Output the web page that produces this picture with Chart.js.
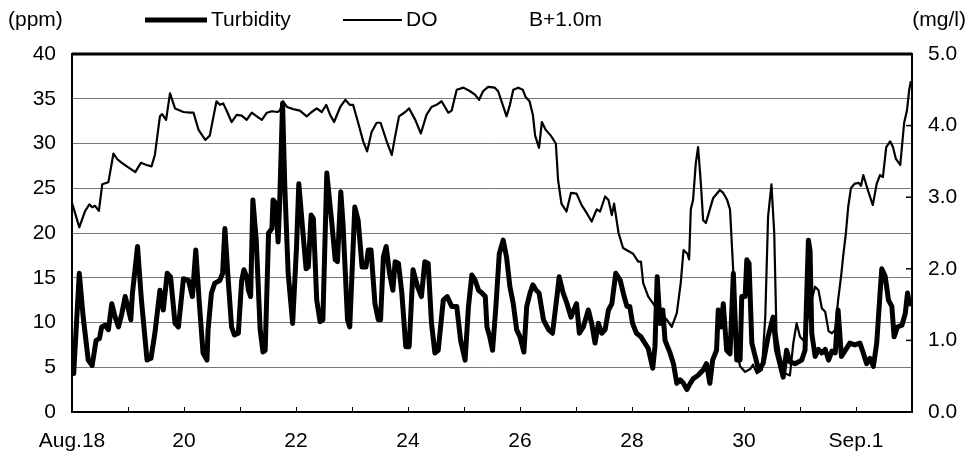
<!DOCTYPE html>
<html>
<head>
<meta charset="utf-8">
<script src="https://cdn.jsdelivr.net/npm/chart.js@4.4.1/dist/chart.umd.min.js"></script>
<style>
  html, body { margin: 0; padding: 0; background: #fff; }
  #wrap { width: 972px; height: 460px; }
</style>
</head>
<body>
<div id="wrap"><canvas id="chart" width="972" height="460"></canvas></div>
<script>
/* -------------------------------------------------------
   Data – days since Aug.18 00:00
------------------------------------------------------- */
const dayLabels = ['Aug.18', '20', '22', '24', '26', '28', '30', 'Sep.1'];

// Turbidity (ppm), left axis
const turbDays = [
  0, 0.03, 0.13, 0.20, 0.29, 0.36, 0.43, 0.49, 0.53, 0.59, 0.65, 0.71, 0.77, 0.83, 0.89, 0.95,
  1.01, 1.05, 1.08, 1.17, 1.24, 1.34, 1.41, 1.48, 1.57, 1.63, 1.70, 1.76, 1.84, 1.90, 1.99,
  2.08, 2.15, 2.21, 2.27, 2.34, 2.41, 2.43, 2.49, 2.55, 2.64, 2.69, 2.73, 2.79, 2.85, 2.90, 2.97,
  3.03, 3.07, 3.12, 3.15, 3.19, 3.23, 3.29, 3.36, 3.41, 3.45, 3.51, 3.57, 3.59, 3.64, 3.68, 3.71,
  3.76, 3.80, 3.86, 3.94, 4.01, 4.05, 4.13, 4.18, 4.22, 4.27, 4.31, 4.37, 4.43, 4.48, 4.55, 4.64,
  4.70, 4.74, 4.80, 4.84, 4.92, 4.96, 5.05, 5.11, 5.18, 5.25, 5.29, 5.34, 5.41, 5.47, 5.51, 5.56,
  5.61, 5.67, 5.73, 5.77, 5.83, 5.89, 5.96, 6.02, 6.09, 6.17, 6.24, 6.30, 6.36, 6.42, 6.48, 6.54,
  6.63, 6.70, 6.78, 6.87, 6.94, 7.02, 7.08, 7.14, 7.20, 7.26, 7.32, 7.38, 7.41, 7.46, 7.51, 7.57,
  7.63, 7.70, 7.76, 7.82, 7.88, 7.94, 8.00, 8.07, 8.12, 8.18, 8.23, 8.29, 8.34, 8.42, 8.51, 8.58,
  8.66, 8.70, 8.77, 8.84, 8.91, 8.96, 9.01, 9.06, 9.13, 9.22, 9.28, 9.34, 9.40, 9.46, 9.52, 9.58,
  9.64, 9.71, 9.79, 9.86, 9.91, 9.96, 10.01, 10.08, 10.16, 10.23, 10.29, 10.37, 10.41, 10.45,
  10.50, 10.55, 10.59, 10.68, 10.74, 10.80, 10.86, 10.92, 10.98, 11.04, 11.09, 11.18, 11.27,
  11.33, 11.39, 11.44, 11.51, 11.54, 11.59, 11.63, 11.69, 11.75, 11.81, 11.87, 11.93, 11.96,
  12.02, 12.05, 12.09, 12.14, 12.20, 12.26, 12.34, 12.43, 12.52, 12.58, 12.64, 12.70, 12.76,
  12.82, 12.91, 13.03, 13.09, 13.15, 13.18, 13.21, 13.27, 13.33, 13.39, 13.45, 13.51, 13.57,
  13.63, 13.68, 13.74, 13.80, 13.89, 13.98, 14.07, 14.13, 14.19, 14.25, 14.31, 14.37, 14.43,
  14.46, 14.52, 14.58, 14.64, 14.68, 14.74, 14.82, 14.88, 14.92, 14.96
];
const turbVals = [
  7.5, 4.3, 15.5, 10.6, 5.8, 5.2, 8.0, 8.2, 9.5, 9.7, 9.2, 12.1, 10.6, 9.5, 11.0, 12.9,
  11.4, 10.3, 13.3, 18.5, 12.5, 5.8, 6.0, 8.8, 13.6, 11.4, 15.5, 15.1, 9.9, 9.5, 14.9,
  14.7, 12.9, 18.1, 12.5, 6.6, 5.8, 9.2, 13.3, 14.4, 14.7, 15.5, 20.5, 14.7, 9.5, 8.6, 8.8,
  14.7, 15.9, 15.1, 13.6, 12.9, 23.7, 19.2, 9.2, 6.7, 6.9, 20.0, 20.5, 23.7, 23.3, 19.0, 23.7,
  34.5, 25.2, 15.5, 9.9, 18.5, 25.5, 19.6, 16.0, 16.2, 22.0, 21.6, 12.5, 10.1, 10.3, 26.7, 21.1,
  17.0, 16.8, 24.6, 21.0, 10.3, 9.5, 22.9, 21.4, 16.2, 16.2, 18.1, 18.1, 12.1, 10.3, 10.3, 17.3,
  18.5, 15.5, 13.6, 16.8, 16.6, 13.3, 7.3, 7.3, 15.9, 14.0, 12.9, 16.8, 16.6, 9.9, 6.6, 6.9,
  12.5, 12.9, 11.8, 11.8, 8.0, 5.8, 11.8, 15.3, 14.7, 13.6, 13.3, 12.9, 9.5, 8.4, 6.9, 11.8,
  17.7, 19.2, 17.3, 14.0, 12.1, 9.2, 8.4, 6.7, 11.8, 13.3, 14.2, 13.6, 13.3, 10.3, 9.2, 8.8,
  12.9, 15.1, 13.3, 12.1, 10.6, 11.4, 12.1, 8.8, 9.5, 11.4, 9.9, 7.7, 9.9, 8.8, 9.2, 11.4,
  12.1, 15.5, 14.7, 12.9, 11.8, 11.8, 9.9, 8.8, 8.4, 7.7, 7.1, 4.9, 7.3, 15.1,
  9.9, 11.4, 8.0, 6.6, 5.4, 3.2, 3.6, 3.2, 2.5, 3.2, 3.7, 4.1, 4.7,
  5.4, 3.2, 5.8, 6.9, 11.4, 9.5, 12.1, 6.9, 6.5, 15.5, 5.8, 5.8, 12.9,
  12.9, 17.0, 16.6, 7.7, 6.2, 4.7, 5.4, 8.4, 10.6, 6.9, 5.4, 3.9, 6.9,
  5.6, 5.4, 5.8, 6.9, 19.2, 18.0, 8.8, 6.2, 7.0, 6.6, 7.0, 5.8, 6.8,
  6.6, 11.4, 6.2, 6.8, 7.7, 7.5, 7.7, 6.6, 5.4, 6.0, 5.1, 7.7, 13.3,
  16.0, 15.2, 12.5, 11.8, 8.4, 9.5, 9.7, 11.0, 13.3, 11.8
];

// Dissolved oxygen (mg/l), right axis
const doDays = [
  0, 0.13, 0.23, 0.31, 0.36, 0.41, 0.48, 0.54, 0.65, 0.74, 0.81, 0.89, 0.98, 1.13, 1.23, 1.33,
  1.42, 1.48, 1.57, 1.61, 1.68, 1.75, 1.84, 1.99, 2.11, 2.17, 2.26, 2.38, 2.46, 2.58, 2.64, 2.70,
  2.76, 2.85, 2.94, 3.03, 3.12, 3.21, 3.30, 3.39, 3.48, 3.57, 3.67, 3.71, 3.77, 3.84, 3.95, 4.07,
  4.19, 4.28, 4.37, 4.46, 4.54, 4.61, 4.68, 4.79, 4.88, 4.96, 5.02, 5.11, 5.20, 5.27, 5.35, 5.44,
  5.51, 5.62, 5.71, 5.77, 5.84, 5.95, 6.02, 6.13, 6.23, 6.33, 6.42, 6.51, 6.60, 6.72, 6.78, 6.87,
  6.99, 7.11, 7.20, 7.27, 7.34, 7.43, 7.55, 7.61, 7.67, 7.76, 7.82, 7.88, 7.97, 8.05, 8.10, 8.17,
  8.23, 8.27, 8.34, 8.39, 8.46, 8.55, 8.64, 8.68, 8.74, 8.83, 8.91, 9.01, 9.10, 9.19, 9.28, 9.37,
  9.43, 9.52, 9.58, 9.64, 9.68, 9.76, 9.84, 9.91, 10.02, 10.11, 10.16, 10.20, 10.29, 10.41, 10.50,
  10.62, 10.71, 10.80, 10.87, 10.92, 10.99, 11.02, 11.05, 11.09, 11.14, 11.18, 11.23, 11.27, 11.32,
  11.39, 11.45, 11.57, 11.63, 11.70, 11.75, 11.81, 11.87, 11.93, 12.02, 12.11, 12.16, 12.23, 12.32,
  12.38, 12.43, 12.49, 12.54, 12.58, 12.64, 12.73, 12.82, 12.88, 12.94, 13.00, 13.06, 13.12, 13.18,
  13.27, 13.33, 13.39, 13.45, 13.51, 13.57, 13.63, 13.68, 13.74, 13.77, 13.82, 13.86, 13.91, 13.98,
  14.05, 14.09, 14.13, 14.22, 14.30, 14.37, 14.43, 14.48, 14.54, 14.61, 14.66, 14.71, 14.79, 14.86,
  14.91, 14.95, 14.98
];
const doVals = [
  2.92, 2.58, 2.80, 2.90, 2.86, 2.88, 2.81, 3.18, 3.21, 3.61, 3.53, 3.48, 3.43, 3.35, 3.48, 3.45,
  3.43, 3.59, 4.13, 4.16, 4.08, 4.45, 4.24, 4.19, 4.18, 4.18, 3.94, 3.80, 3.86, 4.34, 4.29, 4.31,
  4.21, 4.05, 4.15, 4.14, 4.08, 4.18, 4.13, 4.08, 4.18, 4.20, 4.19, 4.21, 4.34, 4.26, 4.23, 4.21,
  4.13, 4.19, 4.24, 4.19, 4.29, 4.15, 4.05, 4.26, 4.36, 4.29, 4.29, 4.04, 3.78, 3.64, 3.91, 4.04,
  4.04, 3.78, 3.59, 3.85, 4.13, 4.19, 4.24, 4.08, 3.89, 4.15, 4.26, 4.29, 4.34, 4.18, 4.21, 4.50,
  4.53, 4.48, 4.43, 4.36, 4.48, 4.54, 4.53, 4.48, 4.34, 4.13, 4.29, 4.50, 4.53, 4.50, 4.40, 4.34,
  4.15, 3.86, 3.69, 4.05, 3.94, 3.86, 3.75, 3.24, 2.91, 2.80, 3.06, 3.05, 2.89, 2.78, 2.66, 2.83,
  2.80, 3.01, 2.96, 2.75, 2.91, 2.50, 2.29, 2.26, 2.21, 2.10, 2.10, 1.80, 1.61, 1.48, 1.38,
  1.29, 1.19, 1.38, 1.80, 2.26, 2.21, 2.13, 2.83, 2.96, 3.48, 3.70, 3.19, 2.68, 2.64,
  2.83, 2.99, 3.10, 3.06, 2.96, 2.83, 1.94, 0.86, 0.64, 0.56, 0.60, 0.66, 0.54, 0.59,
  1.33, 2.73, 3.18, 2.50, 1.10, 0.80, 0.54, 0.51, 0.96, 1.24, 1.05, 1.00, 1.24, 1.48,
  1.75, 1.70, 1.45, 1.40, 1.13, 1.10, 1.15, 1.56, 1.94, 2.17, 2.50, 2.86, 3.13, 3.19,
  3.20, 3.16, 3.31, 3.08, 2.89, 3.19, 3.31, 3.28, 3.70, 3.78, 3.70, 3.54, 3.45, 4.04,
  4.21, 4.50, 4.62
];

const FONT = "'Liberation Sans', Arial, sans-serif";

/* -------------------------------------------------------
   Frame, inward tick marks and header texts
------------------------------------------------------- */
const decorPlugin = {
  id: 'decor',
  afterDraw(chart) {
    const { ctx, chartArea: a, scales } = chart;
    ctx.save();

    // frame
    ctx.strokeStyle = '#000';
    ctx.lineWidth = 2;
    ctx.strokeRect(a.left, a.top, a.right - a.left, a.bottom - a.top);
    ctx.lineWidth = 3;
    ctx.beginPath();
    ctx.moveTo(a.left, a.top);
    ctx.lineTo(a.right, a.top);
    ctx.stroke();

    // x ticks (one per day, pointing up)
    ctx.lineWidth = 1;
    for (let d = 1; d < 15; d++) {
      const x = Math.round(scales.x.getPixelForValue(d)) + 0.5;
      ctx.beginPath();
      ctx.moveTo(x, a.bottom);
      ctx.lineTo(x, a.bottom - 5);
      ctx.stroke();
    }
    // right axis ticks (pointing in)
    ctx.lineWidth = 1.5;
    for (let v = 1; v < 5; v++) {
      const y = scales.y1.getPixelForValue(v);
      ctx.beginPath();
      ctx.moveTo(a.right, y);
      ctx.lineTo(a.right - 6, y);
      ctx.stroke();
    }

    // header
    ctx.fillStyle = '#000';
    ctx.font = '21px ' + FONT;
    ctx.textBaseline = 'middle';
    ctx.textAlign = 'left';
    ctx.fillText('(ppm)', 8, 20);
    ctx.fillText('B+1.0m', 529, 20);
    ctx.textAlign = 'right';
    ctx.fillText('(mg/l)', 966, 20);

    // legend
    const items = [
      { ds: chart.data.datasets[0], x0: 145, x1: 207 },
      { ds: chart.data.datasets[1], x0: 343, x1: 402 }
    ];
    ctx.textAlign = 'left';
    items.forEach(it => {
      ctx.strokeStyle = it.ds.borderColor;
      ctx.lineWidth = it.ds.borderWidth;
      ctx.beginPath();
      ctx.moveTo(it.x0, 20);
      ctx.lineTo(it.x1, 20);
      ctx.stroke();
      ctx.fillText(it.ds.label, it.x1 + 4, 20);
    });

    ctx.restore();
  }
};

/* -------------------------------------------------------
   Chart
------------------------------------------------------- */
const ctx = document.getElementById('chart').getContext('2d');

new Chart(ctx, {
  type: 'line',
  data: {
    datasets: [
      {
        label: 'Turbidity',
        data: turbDays.map((d, i) => ({ x: d, y: turbVals[i] })),
        yAxisID: 'y',
        borderColor: '#000',
        borderWidth: 5,
        pointRadius: 0,
        tension: 0,
        borderJoinStyle: 'round'
      },
      {
        label: 'DO',
        data: doDays.map((d, i) => ({ x: d, y: doVals[i] })),
        yAxisID: 'y1',
        borderColor: '#000',
        borderWidth: 2.2,
        pointRadius: 0,
        tension: 0,
        borderJoinStyle: 'round'
      }
    ]
  },
  options: {
    responsive: false,
    animation: false,
    devicePixelRatio: 1,
    layout: { padding: { top: 54, left: 0, right: 0, bottom: 0 } },
    plugins: {
      legend: { display: false },
      tooltip: { enabled: false }
    },
    scales: {
      x: {
        type: 'linear',
        min: 0,
        max: 15,
        afterFit: s => { s.height = 48; },
        grid: { drawOnChartArea: false, drawTicks: false },
        border: { color: '#000', width: 2 },
        ticks: {
          stepSize: 1,
          autoSkip: false,
          maxRotation: 0,
          padding: 17,
          color: '#000',
          font: { size: 21, family: FONT },
          callback: v => (v % 2 === 0 && dayLabels[v / 2]) ? dayLabels[v / 2] : ''
        }
      },
      y: {
        position: 'left',
        min: 0,
        max: 40,
        afterFit: s => { s.width = 72; },
        grid: { color: '#777', lineWidth: 1, drawTicks: false },
        border: { color: '#000', width: 2 },
        ticks: {
          stepSize: 5,
          padding: 16,
          color: '#000',
          font: { size: 21, family: FONT }
        }
      },
      y1: {
        position: 'right',
        min: 0,
        max: 5,
        afterFit: s => { s.width = 60; },
        grid: { drawOnChartArea: false, drawTicks: false },
        border: { color: '#000', width: 2 },
        ticks: {
          stepSize: 1,
          padding: 16,
          color: '#000',
          font: { size: 21, family: FONT },
          callback: v => v.toFixed(1)
        }
      }
    }
  },
  plugins: [decorPlugin]
});
</script>
</body>
</html>
